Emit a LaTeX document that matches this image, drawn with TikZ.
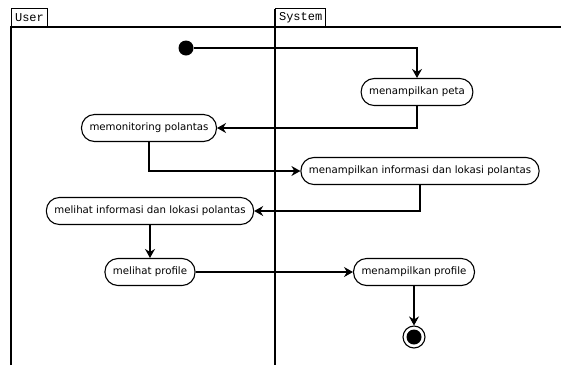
\documentclass[tikz,border=0pt]{standalone}
\usepackage{fontspec}
\setmainfont{DejaVu Sans}
\setmonofont{Liberation Mono}
\usetikzlibrary{arrows.meta}

\begin{document}
\begin{tikzpicture}[x=1pt, y=-1pt, line width=1.1pt,
  act/.style={draw, rounded corners=13pt, minimum height=27pt, inner xsep=8pt,
              font=\fontsize{10.2}{12}\selectfont, fill=white},
  lane/.style={draw, font=\ttfamily\fontsize{12}{13}\selectfont, inner xsep=3.5pt,
               inner ysep=1pt, minimum height=18pt, anchor=south west},
  flow/.style={-{Stealth[length=9pt, width=10pt, inset=3pt]}}]
  \useasboundingbox (0,0) rectangle (561,365);
  % --- swimlanes ---
  \draw (11,365) -- (11,27) -- (561,27);
  \draw (275,9) -- (275,365);
  \node[lane] (user)   at (11,27)  {User};
  \node[lane] (system) at (275,27) {System};

  % --- start and end ---
  \node[circle, fill=black, inner sep=0pt, minimum size=15pt] (start) at (186,48) {};
  \node[circle, draw, fill=white, inner sep=0pt, minimum size=22pt] (end) at (414,337) {};
  \fill (end) circle (7.5pt);

  % --- activities ---
  \node[act] (peta)      at (417,92)  {menampilkan peta};
  \node[act] (monitor)   at (149,128) {memonitoring polantas};
  \node[act] (info)      at (420,171) {menampilkan informasi dan lokasi polantas};
  \node[act] (lihatinfo) at (150,211) {melihat informasi dan lokasi polantas};
  \node[act] (profile)   at (150,272) {melihat profile};
  \node[act] (tampil)    at (414,272) {menampilkan profile};

  % --- flows ---
  \draw[flow] (start) -| (peta);
  \draw[flow] (peta) |- (monitor);
  \draw[flow] (monitor) |- (info);
  \draw[flow] (info) |- (lihatinfo);
  \draw[flow] (lihatinfo) -- (profile);
  \draw[flow] (profile) -- (tampil);
  \draw[flow] (tampil) -- (end);
\end{tikzpicture}
\end{document}
